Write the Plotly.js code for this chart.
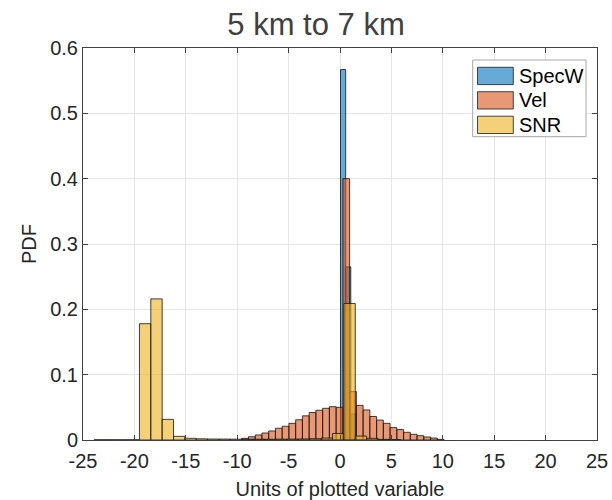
<!DOCTYPE html>
<html>
<head>
<meta charset="utf-8">
<script src="https://cdn.plot.ly/plotly-3.0.1.min.js"></script>
<style>html,body{margin:0;padding:0;background:#fff;}#chart{width:612px;height:500px;}</style>
</head>
<body>
<div id="chart"></div>
<script>
// ---- data ----
const seriesNames = ["SpecW", "Vel", "SNR"];

const specwBinStart = 0.05;
const specwBinWidth = 0.5;
const specwPdf = [0.567, 0.265, 0.04];

const velBinStart = -9.56;
const velBinWidth = 0.656;
const velPdf = [0.0026, 0.005, 0.0077, 0.0107, 0.0138, 0.018, 0.021, 0.0255, 0.031, 0.037,
                0.042, 0.0455, 0.0485, 0.051, 0.050, 0.40, 0.074, 0.053, 0.046, 0.036,
                0.0305, 0.0255, 0.019, 0.016, 0.0118, 0.0087, 0.0066, 0.0046, 0.003, 0.001];

const snrBinStart = -23.93;
const snrBinWidth = 1.105;
const snrPdf = [0.0003, 0.0003, 0.0003, 0.0003, 0.178, 0.216, 0.0316, 0.0056, 0.0026, 0.0018,
                0.0015, 0.0014, 0.0013, 0.0012, 0.0012, 0.0012, 0.0013, 0.0014, 0.0016, 0.002,
                0.003, 0.010, 0.209, 0.006, 0.0026, 0.001, 0.0005];

const xTickVals = [-25, -20, -15, -10, -5, 0, 5, 10, 15, 20, 25];
const xTickText = ["-25", "-20", "-15", "-10", "-5", "0", "5", "10", "15", "20", "25"];
const yTickVals = [0, 0.1, 0.2, 0.3, 0.4, 0.5, 0.6];
const yTickText = ["0", "0.1", "0.2", "0.3", "0.4", "0.5", "0.6"];

const titleText = "5 km to 7 km";
const xLabel = "Units of plotted variable";
const yLabel = "PDF";

// ---- build ----
function centers(start, width, n) {
  const c = [];
  for (let i = 0; i < n; i++) c.push(start + (i + 0.5) * width);
  return c;
}
const fills = ["rgba(0,114,189,0.6)", "rgba(217,83,25,0.6)", "rgba(237,177,32,0.6)"];
const edge = {color: "rgba(20,20,20,0.8)", width: 1};
const font = "Liberation Sans, Arial, Helvetica, sans-serif";

const traces = [
  {name: seriesNames[0], x: centers(specwBinStart, specwBinWidth, specwPdf.length), y: specwPdf, width: specwBinWidth},
  {name: seriesNames[1], x: centers(velBinStart, velBinWidth, velPdf.length), y: velPdf, width: velBinWidth},
  {name: seriesNames[2], x: centers(snrBinStart, snrBinWidth, snrPdf.length), y: snrPdf, width: snrBinWidth}
].map((t, i) => Object.assign(t, {
  type: "bar",
  marker: {color: fills[i], line: edge},
  hoverinfo: "skip",
  showlegend: false
}));

// plot area in pixels (for the legend box, MATLAB style)
const plotL = 83, plotR = 597, plotT = 48, plotB = 440;
const px2x = p => (p - plotL) / (plotR - plotL);
const py2y = p => (plotB - p) / (plotB - plotT);

const shapes = [];
const annotations = [];
// legend frame
shapes.push({type: "rect", xref: "paper", yref: "paper", layer: "above",
  x0: px2x(472.7), x1: px2x(586), y0: py2y(136.7), y1: py2y(60),
  fillcolor: "#ffffff", line: {color: "#a6a6a6", width: 1}});
const rowTop = [67.3, 91.7, 116.2];
seriesNames.forEach((nm, i) => {
  shapes.push({type: "rect", xref: "paper", yref: "paper", layer: "above",
    x0: px2x(477.5), x1: px2x(513.3), y0: py2y(rowTop[i] + 17.3), y1: py2y(rowTop[i]),
    fillcolor: fills[i], line: {color: "rgba(40,40,40,0.85)", width: 1}});
  annotations.push({xref: "paper", yref: "paper", x: px2x(516.5), y: py2y(rowTop[i] + 8.7),
    xanchor: "left", yanchor: "middle", showarrow: false, text: nm,
    font: {family: font, size: 20, color: "#000"}});
});

const axisCommon = {
  showline: true, linecolor: "#404040", linewidth: 1, mirror: "ticks",
  ticks: "inside", ticklen: 5, tickcolor: "#404040", tickwidth: 1,
  showgrid: true, gridcolor: "#e6e6e6", gridwidth: 1, zeroline: false,
  tickfont: {family: font, size: 20, color: "#262626"},
  automargin: false
};

const layout = {
  width: 612, height: 500,
  margin: {l: plotL, r: 612 - plotR, t: plotT, b: 500 - plotB, pad: 0},
  paper_bgcolor: "#fff", plot_bgcolor: "#fff",
  barmode: "overlay", bargap: 0,
  showlegend: false,
  title: {text: titleText, font: {family: font, size: 31, color: "#404040"},
          x: 316 / 612, xanchor: "center", xref: "container",
          y: 1 - 24 / 500, yanchor: "middle", yref: "container"},
  xaxis: Object.assign({}, axisCommon, {
    range: [-25, 25], tickmode: "array", tickvals: xTickVals, ticktext: xTickText,
    ticklabelstandoff: 3,
    title: {text: xLabel, font: {family: font, size: 20, color: "#262626"}, standoff: 11}
  }),
  yaxis: Object.assign({}, axisCommon, {
    range: [0, 0.6], tickmode: "array", tickvals: yTickVals, ticktext: yTickText,
    title: {text: yLabel, font: {family: font, size: 20, color: "#262626"}, standoff: 8}
  }),
  shapes: shapes,
  annotations: annotations
};

Plotly.newPlot("chart", traces, layout, {displayModeBar: false, staticPlot: true});
</script>
</body>
</html>
